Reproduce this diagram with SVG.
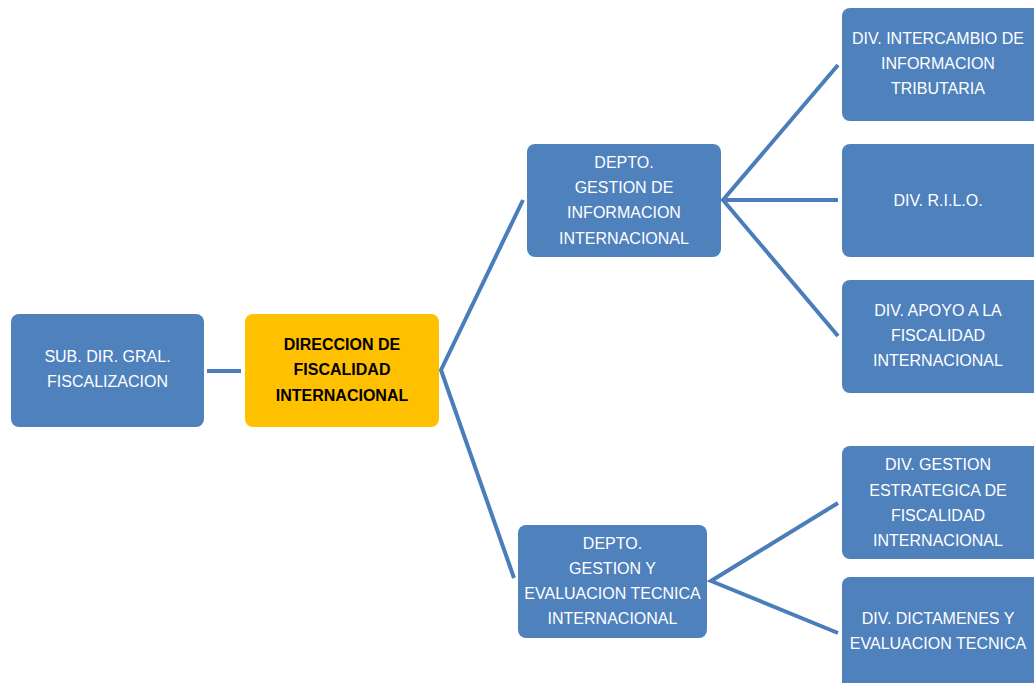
<svg xmlns="http://www.w3.org/2000/svg" width="1034" height="683" viewBox="0 0 1034 683">
<style>
.box{fill:#4F81BD}
.gold{fill:#FFC000}
.t{font-family:"Liberation Sans",Arial,sans-serif;font-size:16px;fill:#fff;text-anchor:middle}
.d{font-family:"Liberation Sans",Arial,sans-serif;font-size:16px;font-weight:bold;fill:#000;text-anchor:middle}
.c{stroke:#4A7EBB;stroke-width:4;fill:none;stroke-linecap:butt;stroke-linejoin:miter}
</style>
<rect width="1034" height="683" fill="#fff"/>
<g id="connectors">
<line class="c" x1="207" y1="371" x2="241" y2="371"/>
<polyline class="c" points="523,200 441,370 514,578"/>
<polyline class="c" points="838,65 723,200 838,336"/>
<line class="c" x1="723" y1="200" x2="838" y2="200"/>
<polyline class="c" points="838,503 711,581 838,633"/>
</g>
<g id="sub">
<rect class="box" x="11" y="314" width="193" height="113" rx="8"/>
<text class="t" x="107.5" y="362">SUB. DIR. GRAL.</text>
<text class="t" x="107.5" y="387">FISCALIZACION</text>
</g>
<g id="direccion">
<rect class="gold" x="245" y="314" width="194" height="113" rx="8"/>
<text class="d" x="342" y="350">DIRECCION DE</text>
<text class="d" x="342" y="375">FISCALIDAD</text>
<text class="d" x="342" y="401">INTERNACIONAL</text>
</g>
<g id="depto1">
<rect class="box" x="527" y="144" width="194" height="113" rx="8"/>
<text class="t" x="624" y="168">DEPTO.</text>
<text class="t" x="624" y="193">GESTION DE</text>
<text class="t" x="624" y="218">INFORMACION</text>
<text class="t" x="624" y="244">INTERNACIONAL</text>
</g>
<g id="depto2">
<rect class="box" x="518" y="525" width="189" height="113" rx="8"/>
<text class="t" x="612.5" y="549">DEPTO.</text>
<text class="t" x="612.5" y="574">GESTION Y</text>
<text class="t" x="612.5" y="599">EVALUACION TECNICA</text>
<text class="t" x="612.5" y="624">INTERNACIONAL</text>
</g>
<g id="div1">
<rect class="box" x="842" y="8" width="200" height="113" rx="8"/>
<text class="t" x="938" y="44">DIV. INTERCAMBIO DE</text>
<text class="t" x="938" y="69">INFORMACION</text>
<text class="t" x="938" y="94">TRIBUTARIA</text>
</g>
<g id="div2">
<rect class="box" x="842" y="144" width="200" height="113" rx="8"/>
<text class="t" x="938" y="206">DIV. R.I.L.O.</text>
</g>
<g id="div3">
<rect class="box" x="842" y="280" width="200" height="113" rx="8"/>
<text class="t" x="938" y="316">DIV. APOYO A LA</text>
<text class="t" x="938" y="341">FISCALIDAD</text>
<text class="t" x="938" y="366">INTERNACIONAL</text>
</g>
<g id="div4">
<rect class="box" x="842" y="446" width="200" height="113" rx="8"/>
<text class="t" x="938" y="470">DIV. GESTION</text>
<text class="t" x="938" y="496">ESTRATEGICA DE</text>
<text class="t" x="938" y="521">FISCALIDAD</text>
<text class="t" x="938" y="546">INTERNACIONAL</text>
</g>
<g id="div5">
<rect class="box" x="842" y="577" width="200" height="113" rx="8"/>
<text class="t" x="938" y="624">DIV. DICTAMENES Y</text>
<text class="t" x="938" y="649">EVALUACION TECNICA</text>
</g>
</svg>
